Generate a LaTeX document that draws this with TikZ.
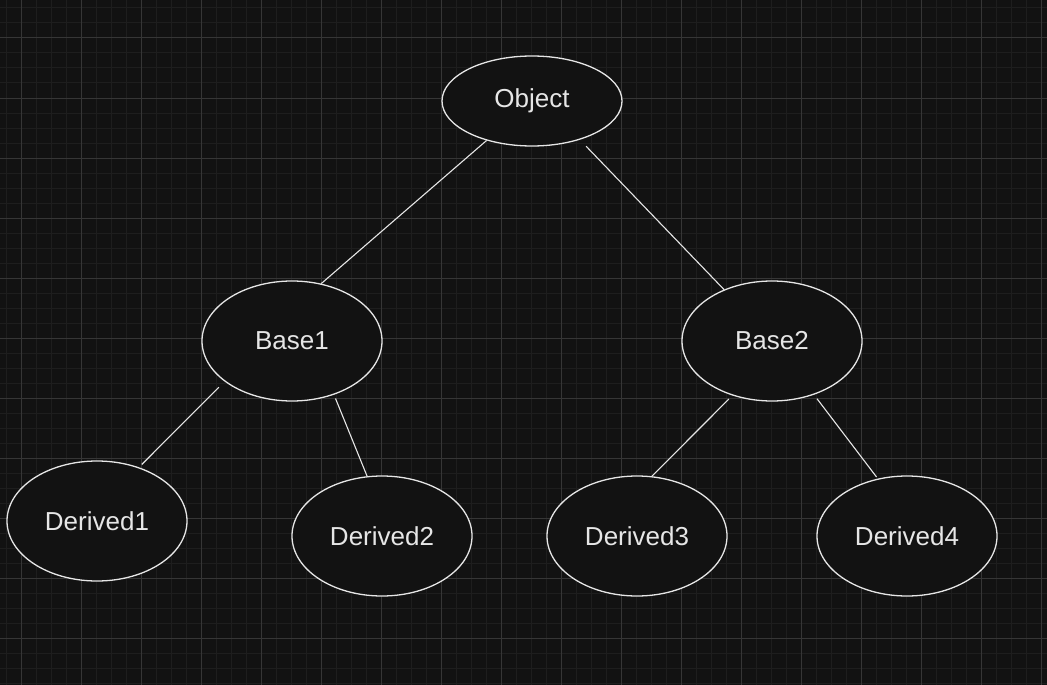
\documentclass[tikz,border=0pt]{standalone}
\usepackage{fontspec}
\setmainfont{Liberation Sans}
\usetikzlibrary{shapes.geometric}
\usepackage{xcolor}
\definecolor{canvas}{HTML}{121212}
\definecolor{gridminor}{HTML}{1E1E1E}
\definecolor{gridmajor}{HTML}{363636}
\definecolor{inkline}{HTML}{E6E6E6}

\begin{document}
\begin{tikzpicture}[
    x=1pt, y=-1pt,
    cls/.style={draw=inkline, ellipse, minimum width=180pt, minimum height=120pt, inner sep=0pt, fill=canvas, line width=1.3pt, text=inkline, font=\fontsize{26}{30}\selectfont},
    link/.style={draw=inkline, line width=1.1pt},
    minorline/.style={draw=gridminor, line width=1pt},
    majorline/.style={draw=gridmajor, line width=1pt}
]
    % Fundo
    \useasboundingbox (0,0) rectangle (1047,685);
    \fill[canvas] (0,0) rectangle (1047,685);
    \foreach \gx in {6,21,...,1046} \draw[minorline] (\gx,0) -- (\gx,685);
    \foreach \gy in {8,23,...,684} \draw[minorline] (0,\gy) -- (1047,\gy);
    \foreach \gx in {21,81,...,1041} \draw[majorline] (\gx,0) -- (\gx,685);
    \foreach \gy in {38,98,...,638} \draw[majorline] (0,\gy) -- (1047,\gy);

    % Classes
    \node[cls, minimum height=90pt] (obj) at (532,101) {Object};
    \node[cls] (base1) at (292,341) {Base1};
    \node[cls] (base2) at (772,341) {Base2};
    \node[cls] (der1) at (97,521) {Derived1};
    \node[cls] (der2) at (382,536) {Derived2};
    \node[cls] (der3) at (637,536) {Derived3};
    \node[cls] (der4) at (907,536) {Derived4};

    % Ligações
    \draw[link] (obj.221) -- (base1.63);
    \draw[link, shorten <=9pt] (obj.-39) -- (base2.133);
    \draw[link, shorten <=8pt, shorten >=4pt] (base1.211) -- (der1.52);
    \draw[link, shorten <=4pt] (base1.-52) -- (der2.104);
    \draw[link, shorten <=5pt] (base2.234) -- (der3.76);
    \draw[link, shorten <=5pt, shorten >=2pt] (base2.-52) -- (der4.117);
\end{tikzpicture}
\end{document}
